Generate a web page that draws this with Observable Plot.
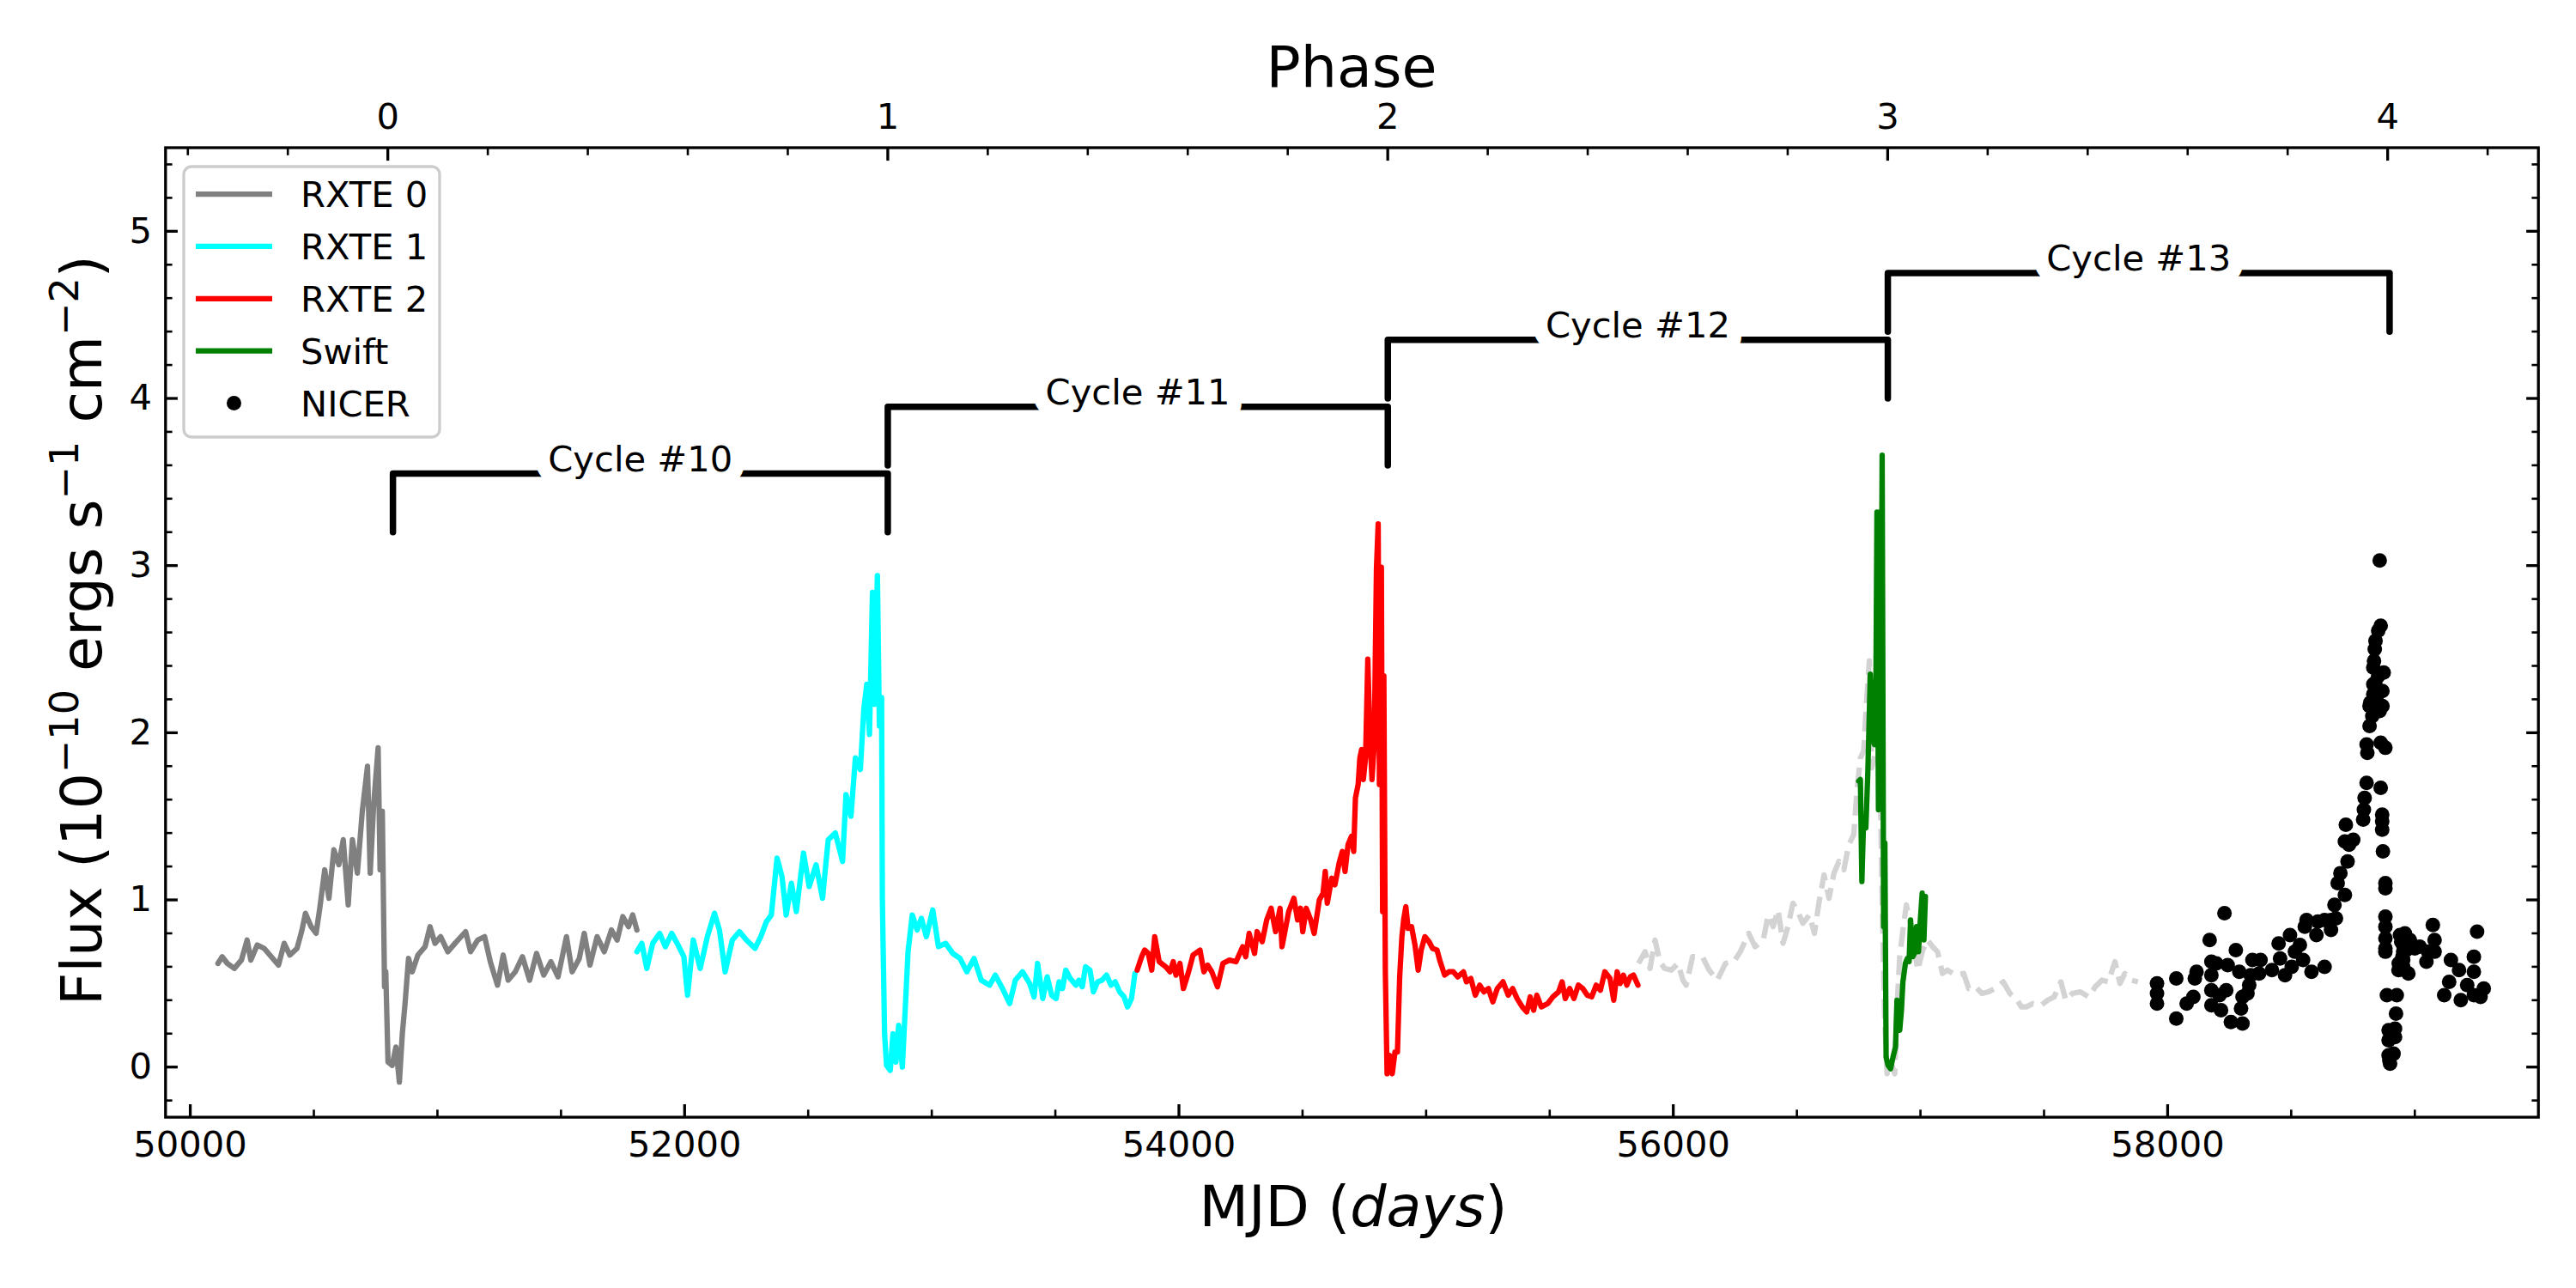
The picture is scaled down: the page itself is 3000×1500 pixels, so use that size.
<!DOCTYPE html>
<html><head><meta charset="utf-8">
<script src="https://cdn.jsdelivr.net/npm/d3@7"></script>
<script src="https://cdn.jsdelivr.net/npm/@observablehq/plot@0.6"></script>
<style>html,body{margin:0;padding:0;background:#fff}#chart{width:3000px;height:1500px}</style>
</head><body><div id="chart"></div>
<script>
// ---------------- data ----------------
const rxte0Mjd = [50112,50129,50150,50178,50207,50230,50245,50271,50299,50328,50357,50380,50403,50432,50452,50466,50489,50509,50524,50544,50561,50581,50601,50619,50639,50656,50676,50696,50717,50728,50742,50760,50768,50777,50786,50791,50800,50817,50832,50846,50858,50869,50883,50898,50921,50950,50970,50990,51013,51042,51071,51114,51134,51163,51191,51214,51243,51266,51286,51315,51344,51373,51401,51430,51459,51488,51522,51545,51574,51594,51617,51646,51675,51704,51727,51750,51773,51790,51807];
const rxte0Flux = [0.62,0.66,0.62,0.59,0.64,0.76,0.64,0.73,0.71,0.66,0.61,0.74,0.67,0.71,0.82,0.92,0.84,0.80,0.95,1.18,1.01,1.30,1.21,1.36,0.97,1.36,1.16,1.53,1.80,1.16,1.57,1.91,1.18,1.53,0.48,0.57,0.03,0.01,0.12,-0.09,0.20,0.38,0.65,0.57,0.67,0.72,0.84,0.74,0.78,0.69,0.74,0.81,0.69,0.76,0.78,0.63,0.49,0.67,0.52,0.57,0.66,0.52,0.68,0.55,0.63,0.54,0.78,0.57,0.65,0.80,0.61,0.78,0.69,0.82,0.76,0.90,0.84,0.91,0.82];

const rxte1Mjd = [51807,51827,51847,51871,51899,51922,51948,51977,51997,52012,52035,52063,52092,52121,52141,52164,52193,52222,52250,52285,52308,52331,52351,52374,52394,52411,52432,52452,52481,52504,52532,52558,52581,52610,52639,52653,52673,52691,52711,52725,52737,52748,52760,52768,52780,52788,52797,52800,52809,52817,52832,52843,52855,52866,52881,52892,52904,52921,52941,52958,52978,53004,53027,53056,53085,53114,53142,53171,53200,53234,53257,53286,53315,53338,53367,53396,53414,53428,53449,53467,53485,53503,53515,53529,53542,53560,53583,53595,53609,53622,53640,53654,53671,53689,53707,53725,53742,53760,53778,53792,53808,53822];
const rxte1Flux = [0.69,0.74,0.59,0.74,0.80,0.72,0.80,0.72,0.66,0.43,0.76,0.59,0.78,0.92,0.82,0.57,0.76,0.81,0.76,0.71,0.78,0.87,0.91,1.25,1.14,0.91,1.10,0.93,1.28,1.08,1.21,1.01,1.36,1.40,1.23,1.63,1.50,1.85,1.78,2.14,2.29,1.99,2.84,2.17,2.94,2.04,2.21,1.01,0.20,0.01,-0.02,0.20,0.03,0.25,0.00,0.33,0.69,0.91,0.82,0.89,0.78,0.94,0.72,0.74,0.68,0.65,0.57,0.65,0.52,0.49,0.55,0.47,0.38,0.52,0.57,0.50,0.42,0.62,0.41,0.54,0.43,0.41,0.51,0.47,0.58,0.53,0.49,0.52,0.48,0.60,0.58,0.45,0.51,0.52,0.55,0.49,0.51,0.45,0.42,0.36,0.41,0.56];

const rxte2Mjd = [53831,53849,53861,53876,53890,53902,53920,53947,53964,53977,53988,54004,54018,54039,54057,54085,54101,54116,54133,54156,54178,54204,54231,54258,54270,54284,54306,54316,54337,54355,54373,54391,54409,54417,54444,54465,54480,54492,54501,54515,54533,54547,54568,54583,54592,54600,54618,54631,54648,54661,54672,54684,54698,54707,54714,54725,54732,54739,54746,54755,54764,54772,54781,54790,54799,54806,54811,54819,54824,54829,54835,54842,54852,54863,54874,54884,54893,54902,54909,54918,54927,54941,54955,54968,54980,54995,55012,55026,55044,55057,55075,55092,55110,55128,55151,55163,55181,55199,55217,55234,55252,55270,55288,55311,55332,55350,55368,55389,55407,55421,55435,55448,55466,55492,55513,55536,55550,55563,55581,55598,55616,55634,55652,55670,55688,55705,55723,55744,55759,55773,55785,55798,55812,55826,55839,55857];
const rxte2Flux = [0.58,0.66,0.70,0.68,0.58,0.78,0.63,0.60,0.57,0.63,0.55,0.62,0.47,0.57,0.67,0.70,0.57,0.61,0.57,0.48,0.62,0.64,0.63,0.72,0.66,0.80,0.68,0.81,0.75,0.88,0.95,0.81,0.95,0.72,0.93,1.01,0.88,0.95,0.81,0.95,0.88,0.80,1.00,1.04,1.17,0.98,1.13,1.09,1.22,1.29,1.17,1.33,1.38,1.29,1.61,1.69,1.85,1.90,1.72,1.85,2.44,2.01,1.72,1.93,2.98,3.25,1.69,2.99,0.93,2.34,0.57,-0.04,0.07,-0.04,0.09,0.09,0.54,0.78,0.88,0.96,0.83,0.84,0.73,0.58,0.70,0.78,0.75,0.71,0.70,0.63,0.55,0.57,0.57,0.54,0.57,0.51,0.53,0.43,0.49,0.45,0.47,0.39,0.47,0.51,0.43,0.47,0.41,0.36,0.33,0.42,0.34,0.43,0.36,0.38,0.42,0.45,0.51,0.41,0.47,0.41,0.49,0.47,0.43,0.42,0.49,0.46,0.57,0.53,0.40,0.57,0.50,0.55,0.49,0.54,0.55,0.49];

const overlayMjd = [55859,55886,55906,55926,55946,55965,55992,56019,56039,56052,56078,56098,56118,56145,56178,56211,56245,56271,56305,56331,56364,56384,56404,56424,56444,56464,56484,56504,56524,56551,56571,56590,56610,56630,56650,56670,56690,56710,56730,56743,56757,56770,56783,56793,56803,56816,56825,56835,56845,56855,56865,56880,56896,56905,56916,56929,56943,56963,56989,57009,57029,57049,57069,57089,57109,57142,57175,57195,57222,57249,57275,57302,57335,57362,57388,57408,57428,57455,57488,57515,57541,57568,57588,57614,57647,57681,57707,57734,57760,57787,57807,57827,57853,57880];
const overlayFlux = [0.62,0.69,0.59,0.76,0.63,0.59,0.58,0.62,0.52,0.49,0.66,0.66,0.66,0.58,0.52,0.62,0.63,0.69,0.80,0.72,0.76,0.91,0.84,0.94,0.74,0.84,0.98,0.93,0.86,0.91,0.80,0.99,1.15,1.01,1.16,1.23,1.18,1.33,1.39,1.65,1.85,1.89,2.21,2.43,1.79,1.87,2.60,1.90,1.00,0.30,-0.04,0.03,-0.04,0.35,0.66,0.82,0.97,0.83,0.58,0.70,0.76,0.72,0.69,0.56,0.58,0.55,0.56,0.47,0.48,0.44,0.45,0.47,0.51,0.44,0.41,0.36,0.36,0.38,0.37,0.40,0.42,0.51,0.40,0.44,0.45,0.42,0.48,0.52,0.51,0.63,0.50,0.56,0.52,0.51];

const swiftMjd = [56750,56757,56763,56770,56779,56787,56797,56806,56814,56819,56824,56830,56835,56840,56845,56851,56856,56861,56869,56879,56889,56899,56905,56916,56923,56929,56939,56947,56954,56960,56969,56979,56984,56992,56999,57007,57014,57020];
const swiftFlux = [1.71,1.72,1.11,1.48,1.43,1.76,2.35,1.96,1.93,2.12,3.32,1.54,3.32,2.12,3.66,0.84,1.34,0.06,0.01,-0.01,0.06,0.12,0.40,0.22,0.34,0.51,0.62,0.65,0.63,0.88,0.66,0.69,0.84,0.69,0.87,1.04,0.76,1.02];

const nicerMjd = [57957,57957,57957,58035,58035,58077,58104,58110,58117,58170,58177,58177,58177,58177,58197,58210,58216,58230,58243,58237,58256,58276,58290,58303,58297,58303,58323,58330,58336,58343,58376,58370,58422,58449,58455,58475,58495,58502,58515,58535,58548,58555,58562,58582,58602,58608,58635,58635,58661,58661,58675,58681,58688,58699,58717,58728,58717,58734,58751,58721,58791,58794,58797,58805,58808,58805,58817,58817,58820,58828,58832,58832,58832,58835,58838,58841,58845,58840,58852,58862,58858,58852,58869,58874,58858,58869,58862,58881,58862,58868,58868,58868,58871,58881,58881,58881,58881,58881,58881,58881,58887,58927,58924,58894,58894,58920,58920,58894,58897,58900,58914,58935,58940,58945,58950,58960,58953,58953,58953,58953,58965,58974,58934,58980,59000,59020,59047,59054,59073,59080,59080,59146,59179,59119,59139,59186,59212,59239,59239,59252,59239,59266,59279];
const nicerFlux = [0.50,0.44,0.38,0.53,0.29,0.38,0.42,0.53,0.57,0.76,0.63,0.55,0.46,0.37,0.62,0.43,0.34,0.92,0.61,0.46,0.27,0.70,0.57,0.26,0.35,0.42,0.44,0.49,0.55,0.64,0.64,0.56,0.58,0.74,0.65,0.55,0.79,0.60,0.69,0.73,0.64,0.84,0.88,0.57,0.79,0.87,0.60,0.88,0.82,0.88,0.97,0.89,1.10,1.16,1.03,1.23,1.35,1.33,1.36,1.45,1.48,1.54,1.61,1.70,1.88,1.93,2.04,2.16,2.18,2.10,2.23,2.29,2.39,2.43,2.50,2.55,2.20,2.30,2.61,2.64,3.03,2.34,2.25,2.36,2.13,2.16,1.94,1.91,1.67,1.51,1.47,1.42,1.29,1.10,1.07,0.90,0.84,0.77,0.71,0.69,0.43,0.43,0.32,0.22,0.16,0.23,0.18,0.07,0.04,0.02,0.08,0.62,0.79,0.75,0.66,0.80,0.73,0.69,0.64,0.60,0.70,0.56,0.58,0.76,0.71,0.72,0.63,0.69,0.85,0.76,0.69,0.64,0.58,0.43,0.51,0.40,0.49,0.66,0.57,0.81,0.43,0.42,0.47];

const cycleNames = ["Cycle #10","Cycle #11","Cycle #12","Cycle #13"];
const cycleStart = [50820,52822,54845,56868];
const cycleEnd   = [52822,54845,56868,58898];
const cycleLevel = [3.55,3.95,4.35,4.75];
const cycleLegBottom = [3.2,3.6,4.0,4.4];

const xMajorTicks = [50000,52000,54000,56000,58000];
const yMajorTicks = [0,1,2,3,4,5];
const phaseMajorTicks = [0,1,2,3,4];
const periastronMjd = 50799.3, periodDays = 2022.7;

const legendLabels = ["RXTE 0","RXTE 1","RXTE 2","Swift","NICER"];
const legendColors = ["#808080","#00ffff","#ff0000","#008000","#000000"];

// ---------------- build ----------------
const rows = (xs, ys) => xs.map((x, i) => ({mjd: x, flux: ys[i]}));
const xMinorTicks = d3.range(50500, 59500, 500).filter(d => d % 2000 !== 0);
const yMinorTicks = d3.range(-1, 28).map(k => k / 5).filter(v => !Number.isInteger(v));
const phaseToMjd = p => periastronMjd + p * periodDays;
const phaseMajorMjd = phaseMajorTicks.map(phaseToMjd);
const phaseMinorMjd = d3.range(-2, 22).map(k => k / 5).filter(p => !Number.isInteger(p)).map(phaseToMjd);

const bracketRows = cycleNames.flatMap((c, i) => [
  {c, mjd: cycleStart[i], flux: cycleLegBottom[i]},
  {c, mjd: cycleStart[i], flux: cycleLevel[i]},
  {c, mjd: cycleEnd[i], flux: cycleLevel[i]},
  {c, mjd: cycleEnd[i], flux: cycleLegBottom[i]}
]);
const cycleRows = cycleNames.map((c, i) => ({c, mid: (cycleStart[i] + cycleEnd[i]) / 2, level: cycleLevel[i]}));

const FONT = 41.67, LABEL = 66.7, LW = 6.25;
const MAJ = 14.6, MIN = 8.3, TW = 3.3, TWm = 2.6;

const plot = Plot.plot({
  width: 3000, height: 1500,
  marginLeft: 192.3, marginRight: 44.3, marginTop: 171.5, marginBottom: 199.4,
  x: {domain: [49900, 59500], axis: null},
  y: {domain: [-0.3, 5.5], axis: null},
  style: {fontFamily: "DejaVu Sans", fontSize: FONT + "px", background: "white", overflow: "visible"},
  marks: [
    Plot.line(rows(overlayMjd, overlayFlux), {x: "mjd", y: "flux", stroke: "#d3d3d3", strokeWidth: LW, strokeDasharray: "23,10", strokeLinecap: "butt"}),
    Plot.line(rows(rxte0Mjd, rxte0Flux), {x: "mjd", y: "flux", stroke: "#808080", strokeWidth: LW}),
    Plot.line(rows(rxte1Mjd, rxte1Flux), {x: "mjd", y: "flux", stroke: "#00ffff", strokeWidth: LW}),
    Plot.line(rows(rxte2Mjd, rxte2Flux), {x: "mjd", y: "flux", stroke: "#ff0000", strokeWidth: LW}),
    Plot.line(rows(swiftMjd, swiftFlux), {x: "mjd", y: "flux", stroke: "#008000", strokeWidth: LW}),
    Plot.dot(rows(nicerMjd, nicerFlux), {x: "mjd", y: "flux", r: 8.5, fill: "black", stroke: "none"}),
    Plot.line(bracketRows, {x: "mjd", y: "flux", z: "c", stroke: "black", strokeWidth: 7.5, strokeLinecap: "round", strokeLinejoin: "round"}),
    Plot.text(cycleRows, {x: "mid", y: "level", text: "c", fontSize: FONT, lineAnchor: "bottom", dy: -3, fill: "black", stroke: "white", strokeWidth: 34, strokeLinejoin: "round", paintOrder: "stroke"}),
    // bottom axis
    Plot.axisX(xMajorTicks, {anchor: "bottom", tickSize: -MAJ, strokeWidth: TW, fill: "none", label: null}),
    Plot.axisX(xMinorTicks, {anchor: "bottom", tickSize: -MIN, strokeWidth: TWm, fill: "none", label: null}),
    Plot.axisX(xMajorTicks, {anchor: "bottom", tickSize: 0, tickPadding: 16.5, tickFormat: d3.format("d"), label: null, fill: "black"}),
    // top (phase) axis
    Plot.axisX(phaseMajorMjd, {anchor: "top", tickSize: -MAJ, strokeWidth: TW, fill: "none", label: null}),
    Plot.axisX(phaseMinorMjd, {anchor: "top", tickSize: -MIN, strokeWidth: TWm, fill: "none", label: null}),
    Plot.axisX(phaseMajorMjd, {anchor: "top", tickSize: 0, tickPadding: 21.7, tickFormat: d => String(Math.round((d - periastronMjd) / periodDays)), label: null, fill: "black"}),
    // left and right y axes
    Plot.axisY(yMajorTicks, {anchor: "left", tickSize: -MAJ, strokeWidth: TW, fill: "none", label: null}),
    Plot.axisY(yMinorTicks, {anchor: "left", tickSize: -MIN, strokeWidth: TWm, fill: "none", label: null}),
    Plot.axisY(yMajorTicks, {anchor: "left", tickSize: 0, tickPadding: 15.7, tickFormat: d => String(d), label: null, fill: "black"}),
    Plot.axisY(yMajorTicks, {anchor: "right", tickSize: -MAJ, strokeWidth: TW, fill: "none", label: null}),
    Plot.axisY(yMinorTicks, {anchor: "right", tickSize: -MIN, strokeWidth: TWm, fill: "none", label: null}),
    Plot.frame({stroke: "black", strokeWidth: 3.3})
  ]
});

document.getElementById("chart").appendChild(plot);

// ---------------- axis titles and legend ----------------
const svg = d3.select(plot);
const g = svg.append("g").attr("font-family", "DejaVu Sans").attr("fill", "black");

g.append("text").attr("x", 1574).attr("y", 101).attr("text-anchor", "middle").attr("font-size", LABEL).text("Phase");

const mjdLabel = g.append("text").attr("x", 1576).attr("y", 1428).attr("text-anchor", "middle").attr("font-size", LABEL);
mjdLabel.append("tspan").text("MJD (");
mjdLabel.append("tspan").attr("font-style", "italic").text("days");
mjdLabel.append("tspan").text(")");

const fluxLabel = g.append("text").attr("transform", "translate(118,734) rotate(-90)").attr("text-anchor", "middle").attr("font-size", LABEL);
const SUP = 46, RAISE = 27;
const parts = [["Flux (10", false], ["\u221210", true], [" ergs s", false], ["\u22121", true], [" cm", false], ["\u22122", true], [")", false]];
let raised = false;
for (const [t, sup] of parts) {
  const ts = fluxLabel.append("tspan").text(t);
  if (sup) { ts.attr("font-size", SUP).attr("dy", -RAISE); raised = true; }
  else if (raised) { ts.attr("dy", RAISE); raised = false; }
}

const leg = g.append("g");
leg.append("rect").attr("x", 214).attr("y", 194).attr("width", 298).attr("height", 315).attr("rx", 9)
  .attr("fill", "white").attr("fill-opacity", 0.8).attr("stroke", "#cccccc").attr("stroke-width", 3.3);
legendLabels.forEach((name, i) => {
  const cy = 226 + i * 60.9;
  if (name === "NICER") {
    leg.append("circle").attr("cx", 272.5).attr("cy", cy).attr("r", 8.5).attr("fill", legendColors[i]);
  } else {
    leg.append("line").attr("x1", 228).attr("x2", 317).attr("y1", cy).attr("y2", cy)
      .attr("stroke", legendColors[i]).attr("stroke-width", LW);
  }
  leg.append("text").attr("x", 350).attr("y", cy).attr("dy", "0.36em").attr("text-anchor", "start").attr("font-size", FONT).text(name);
});
</script>
</body></html>
